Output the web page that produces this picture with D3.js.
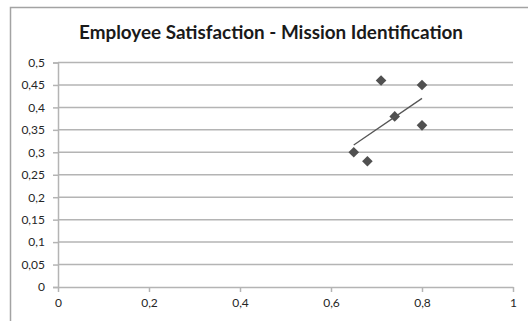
<!DOCTYPE html>
<html>
<head>
<meta charset="utf-8">
<script src="https://cdn.jsdelivr.net/npm/d3@7"></script>
<style>
  html, body { margin: 0; padding: 0; background: #fff; }
  svg { display: block; }
</style>
</head>
<body>
<svg id="chart" width="528" height="321"></svg>
<script>
// Employee satisfaction (x) against mission identification (y)
const chartTitle = "Employee Satisfaction - Mission Identification";
const satisfaction = [0.71, 0.80, 0.74, 0.80, 0.65, 0.68];
const identification = [0.46, 0.45, 0.38, 0.36, 0.30, 0.28];
const xTicks = [0, 0.2, 0.4, 0.6, 0.8, 1];
const yTicks = [0, 0.05, 0.1, 0.15, 0.2, 0.25, 0.3, 0.35, 0.4, 0.45, 0.5];

const svg = d3.select("#chart");
const fontFamily = "Lato, 'Open Sans', sans-serif";
const textColor = "#262626";
const gridColor = "#b4b4b4";

// Chart frame
svg.append("rect")
  .attr("x", 10.5).attr("y", 7.5)
  .attr("width", 540).attr("height", 340)
  .attr("fill", "#fff")
  .attr("stroke", "#a3a3a3")
  .attr("stroke-width", 1.5);

svg.append("text")
  .attr("x", 271).attr("y", 39)
  .attr("text-anchor", "middle")
  .attr("font-family", fontFamily)
  .attr("font-weight", "bold")
  .attr("font-size", 18)
  .attr("fill", "#1a1a1a")
  .attr("textLength", 384)
  .attr("lengthAdjust", "spacingAndGlyphs")
  .text(chartTitle);

const x = d3.scaleLinear().domain([0, 1]).range([58, 513]);
const y = d3.scaleLinear().domain([0, 0.5]).range([287, 62.5]);

const fmt = v => d3.format("~g")(v).replace(".", ",");

// Y axis with tick marks on the left
const yAxis = svg.append("g")
  .attr("transform", `translate(${x(0)},0)`)
  .call(d3.axisLeft(y).tickValues(yTicks).tickFormat(fmt)
    .tickSize(5).tickPadding(8));
yAxis.select(".domain").attr("stroke", gridColor).attr("stroke-width", 1.5);
yAxis.selectAll(".tick line").attr("stroke", gridColor).attr("stroke-width", 1.5);
yAxis.selectAll(".tick text")
  .attr("font-family", fontFamily).attr("font-size", 12).attr("fill", textColor);

// Horizontal gridlines
svg.append("g").selectAll("line")
  .data(yTicks.filter(d => d > 0))
  .join("line")
  .attr("x1", x(0)).attr("x2", x(1))
  .attr("y1", d => y(d)).attr("y2", d => y(d))
  .attr("stroke", gridColor).attr("stroke-width", 1.5);

const xAxis = svg.append("g")
  .attr("transform", `translate(0,${y(0)})`)
  .call(d3.axisBottom(x).tickValues(xTicks).tickFormat(fmt)
    .tickSize(5).tickSizeOuter(0).tickPadding(6));
xAxis.select(".domain").attr("stroke", gridColor).attr("stroke-width", 1.5);
xAxis.selectAll(".tick line").attr("stroke", gridColor).attr("stroke-width", 1.5);
xAxis.selectAll(".tick text")
  .attr("font-family", fontFamily).attr("font-size", 12).attr("fill", textColor);

// Linear trendline (least squares) across the range of x values
const n = satisfaction.length;
const mx = d3.mean(satisfaction), my = d3.mean(identification);
let sxy = 0, sxx = 0;
for (let i = 0; i < n; i++) {
  sxy += (satisfaction[i] - mx) * (identification[i] - my);
  sxx += (satisfaction[i] - mx) ** 2;
}
const slope = sxy / sxx, intercept = my - slope * mx;
const [xMin, xMax] = d3.extent(satisfaction);

// Diamond markers
const diamond = d3.symbol().type(d3.symbolDiamond2).size(72);
svg.append("g").selectAll("path")
  .data(satisfaction.map((v, i) => [v, identification[i]]))
  .join("path")
  .attr("d", diamond)
  .attr("transform", d => `translate(${x(d[0])},${y(d[1])})`)
  .attr("fill", "#505050");

svg.append("line")
  .attr("x1", x(xMin)).attr("y1", y(intercept + slope * xMin))
  .attr("x2", x(xMax)).attr("y2", y(intercept + slope * xMax))
  .attr("stroke", "#555").attr("stroke-width", 1.3);
</script>
</body>
</html>
